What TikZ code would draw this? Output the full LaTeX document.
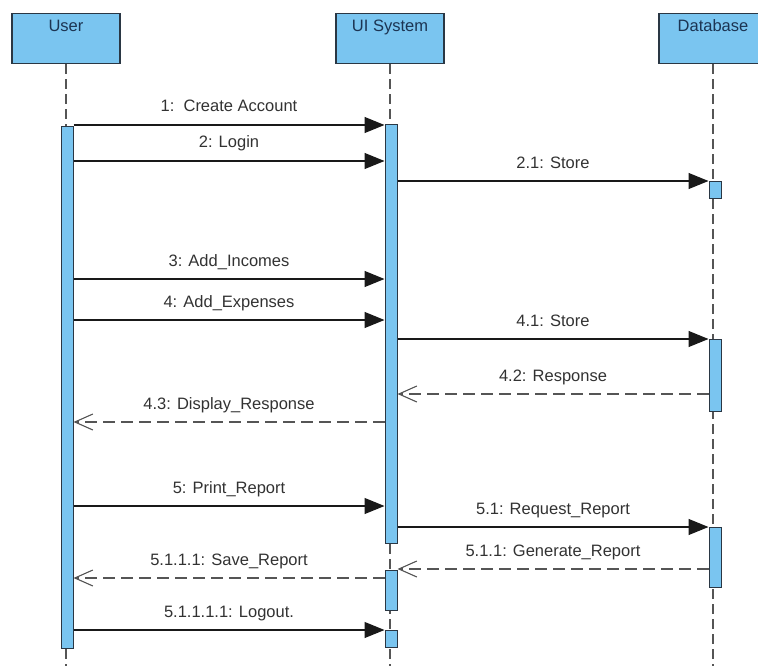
\documentclass[tikz,border=0pt]{standalone}
\usepackage{fontspec}
\setmainfont{Liberation Sans}
\usetikzlibrary{arrows.meta}

\definecolor{headfill}{RGB}{122,197,240}
\definecolor{edgeline}{RGB}{42,55,68}
\definecolor{headtext}{RGB}{28,52,82}
\definecolor{msgtext}{RGB}{50,50,50}
\definecolor{callline}{RGB}{25,25,25}
\definecolor{dashgray}{RGB}{85,85,85}

\begin{document}
\begin{tikzpicture}[x=1pt,y=-1pt,
  headbox/.style={draw=edgeline,line width=1.2pt,fill=headfill,anchor=north,
    minimum width=108pt,inner sep=3pt,text height=15pt,text depth=29pt,
    font=\fontsize{16.5}{18}\selectfont,text=headtext},
  lifeline/.style={draw=dashgray,line width=1.4pt,dash pattern=on 10pt off 5pt},
  actbar/.style={draw=edgeline,line width=1pt,fill=headfill,anchor=north,
    minimum width=12pt,inner sep=0pt},
  callmsg/.style={draw=callline,line width=1.2pt,-{Triangle[length=20pt,width=16pt]}},
  replymsg/.style={draw=dashgray,line width=1.2pt,dash pattern=on 12pt off 6pt,
    -{Straight Barb[length=18pt,width=16pt,line width=1.1pt]}},
  msglabel/.style={pos=0.5,anchor=base,yshift=13pt,text=msgtext,
    font=\fontsize{16.5}{18}\selectfont}
]
\useasboundingbox (0,0) rectangle (758,666);
\clip (0,0) rectangle (758,666);

% lifeline heads
\node[headbox] (user) at (66,13)  {User};
\node[headbox] (ui)   at (390,13) {UI System};
\node[headbox] (db)   at (713,13) {Database};

% lifelines
\draw[lifeline] (user.south) -- (user.south |- 0,666);
\draw[lifeline] (ui.south)   -- (ui.south |- 0,666);
\draw[lifeline] (db.south)   -- (db.south |- 0,666);

% activation bars
\node[actbar,minimum height=522pt] (ubar)  at (67,126)  {};
\node[actbar,minimum height=419pt] (sbar1) at (391,124) {};
\node[actbar,minimum height=40pt]  (sbar2) at (391,570) {};
\node[actbar,minimum height=17pt]  (sbar3) at (391,630) {};
\node[actbar,minimum height=17pt]  (dbar1) at (715,181) {};
\node[actbar,minimum height=72pt]  (dbar2) at (715,339) {};
\node[actbar,minimum height=60pt]  (dbar3) at (715,527) {};

% messages
\draw[callmsg] (ubar.east |- 0,125) -- (sbar1.west |- 0,125)
  node[msglabel] {1:\ \ Create Account};
\draw[callmsg] (ubar.east |- 0,161) -- (sbar1.west |- 0,161)
  node[msglabel] {2: Login};
\draw[callmsg] (sbar1.east |- 0,181) -- (dbar1.west |- 0,181)
  node[msglabel] {2.1: Store};
\draw[callmsg] (ubar.east |- 0,279) -- (sbar1.west |- 0,279)
  node[msglabel] {3: Add\_Incomes};
\draw[callmsg] (ubar.east |- 0,320) -- (sbar1.west |- 0,320)
  node[msglabel] {4: Add\_Expenses};
\draw[callmsg] (sbar1.east |- 0,339) -- (dbar2.west |- 0,339)
  node[msglabel] {4.1: Store};
\draw[replymsg] (dbar2.west |- 0,394) -- (sbar1.east |- 0,394)
  node[msglabel] {4.2: Response};
\draw[replymsg] (sbar1.west |- 0,422) -- (ubar.east |- 0,422)
  node[msglabel] {4.3: Display\_Response};
\draw[callmsg] (ubar.east |- 0,506) -- (sbar1.west |- 0,506)
  node[msglabel] {5: Print\_Report};
\draw[callmsg] (sbar1.east |- 0,527) -- (dbar3.west |- 0,527)
  node[msglabel] {5.1: Request\_Report};
\draw[replymsg] (dbar3.west |- 0,569) -- (sbar2.east |- 0,569)
  node[msglabel] {5.1.1: Generate\_Report};
\draw[replymsg] (sbar2.west |- 0,578) -- (ubar.east |- 0,578)
  node[msglabel] {5.1.1.1: Save\_Report};
\draw[callmsg] (ubar.east |- 0,630) -- (sbar3.west |- 0,630)
  node[msglabel] {5.1.1.1.1: Logout.};
\end{tikzpicture}
\end{document}
